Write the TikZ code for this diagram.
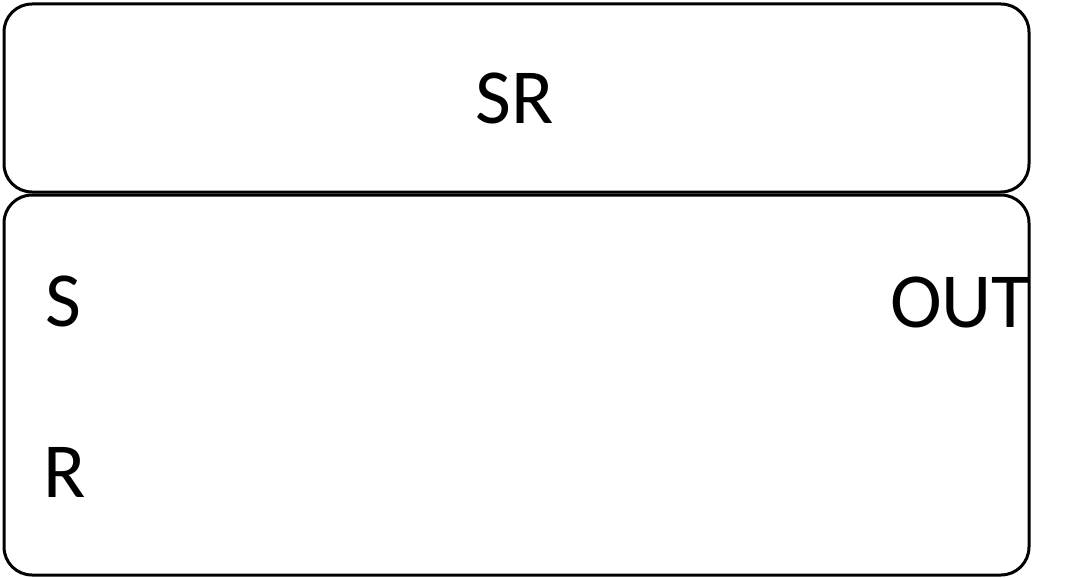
\documentclass[tikz,border=0pt]{standalone}
\usepackage{fontspec}
\setmainfont{Carlito}
\tikzset{
  blk/.style={draw=black, line width=3pt, rounded corners=28pt},
  lbl/.style={inner sep=0pt, font=\fontsize{78}{84}\selectfont}
}
\begin{document}
\begin{tikzpicture}[x=1pt,y=-1pt]
\useasboundingbox (0,0) rectangle (1069,578);
\draw[blk] (4,4) rectangle (1029,192);
\draw[blk] (4,195) rectangle (1029,575);
\node[lbl, anchor=base] (sr) at (515,123) {SR};
\node[lbl, anchor=base west] (s) at (45,326) {S};
\node[lbl, anchor=base west] (r) at (43,497) {R};
\node[lbl, anchor=base east] (out) at (1030,327) {OUT};
\end{tikzpicture}
\end{document}
